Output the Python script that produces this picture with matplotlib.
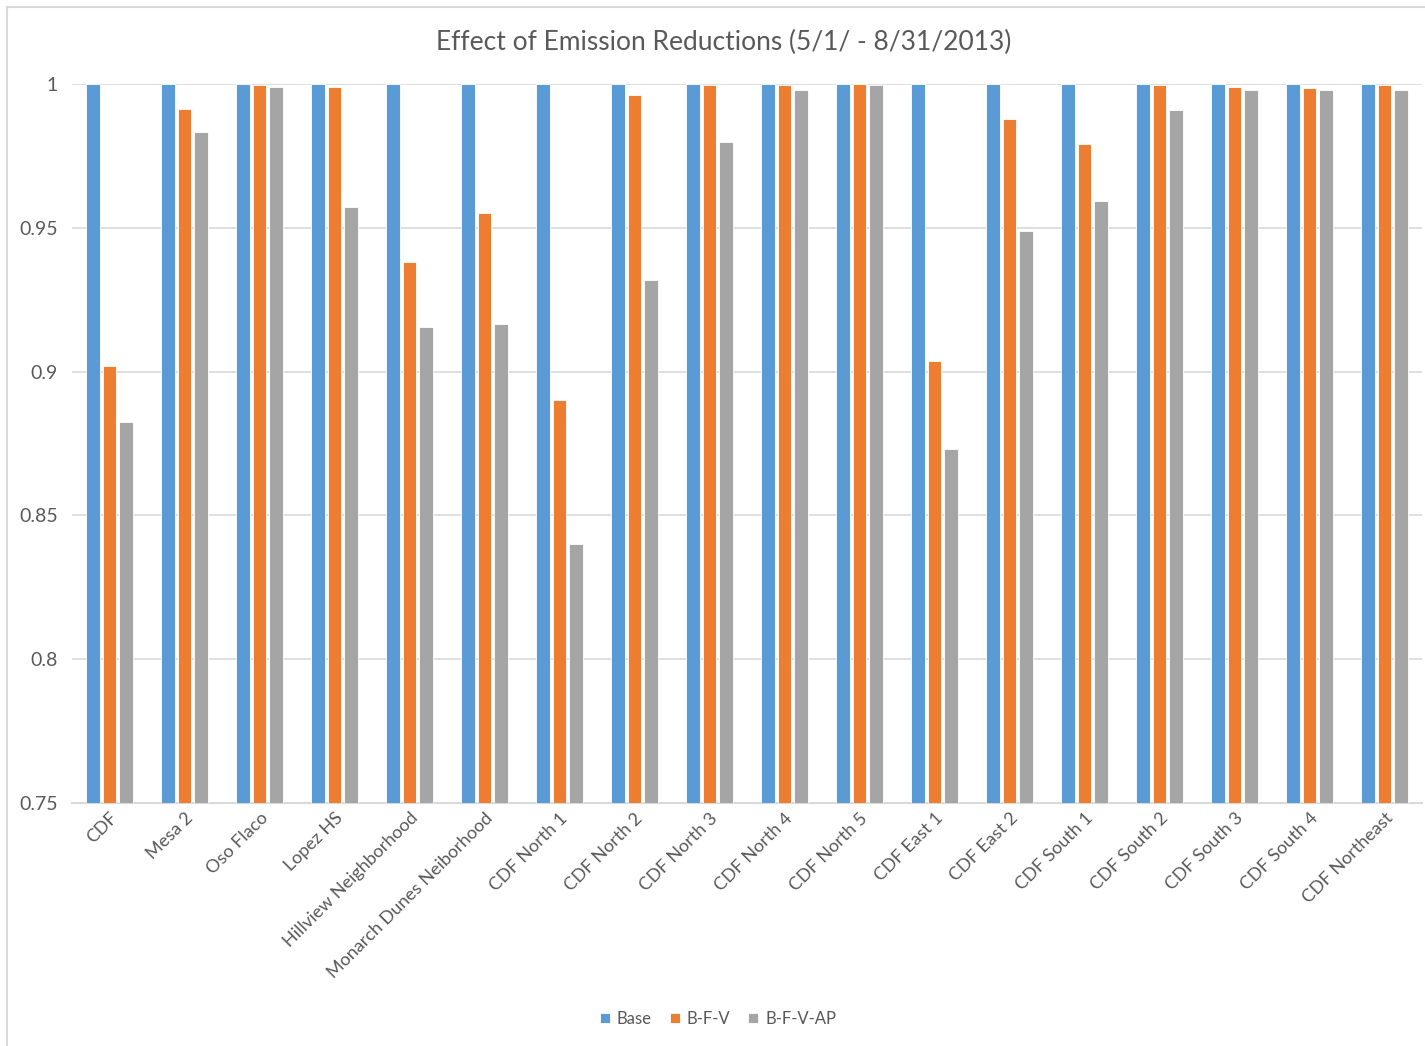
import matplotlib.pyplot as plt
import numpy as np
from matplotlib.patches import Rectangle

sites = ["CDF", "Mesa 2", "Oso Flaco", "Lopez HS", "Hillview Neighborhood",
         "Monarch Dunes Neiborhood", "CDF North 1", "CDF North 2", "CDF North 3",
         "CDF North 4", "CDF North 5", "CDF East 1", "CDF East 2", "CDF South 1",
         "CDF South 2", "CDF South 3", "CDF South 4", "CDF Northeast"]
base = [1.0] * 18
bfv = [0.902, 0.9913, 0.9997, 0.999, 0.938, 0.9551, 0.890, 0.9962, 0.9997,
       0.9997, 1.0, 0.9037, 0.988, 0.979, 0.9997, 0.999, 0.9986, 0.9997]
bfvap = [0.8825, 0.9833, 0.999, 0.9572, 0.9155, 0.9166, 0.840, 0.9318, 0.980,
         0.998, 0.9997, 0.873, 0.949, 0.9593, 0.991, 0.998, 0.998, 0.998]
series = ["Base", "B-F-V", "B-F-V-AP"]
colors = ["#5b9bd5", "#ed7d31", "#a5a5a5"]
yticks = [0.75, 0.8, 0.85, 0.9, 0.95, 1.0]
ylabels = ["0.75", "0.8", "0.85", "0.9", "0.95", "1"]

plt.rcParams['font.family'] = ['Lato', 'DejaVu Sans']
txt = "#595959"

fig = plt.figure(figsize=(14.25, 10.46), dpi=100)
ax = fig.add_axes([72 / 1425, 1 - 803 / 1046, 1350 / 1425, 719 / 1046])

x = np.arange(len(sites))
w = 0.175
for k, (vals, c) in enumerate(zip([base, bfv, bfvap], colors)):
    ax.bar(x + (k - 1) * 0.22, np.array(vals) - 0.75, w, bottom=0.75,
           color=c, edgecolor="white", linewidth=0.6, label=series[k], zorder=3)

ax.set_xlim(-0.5, len(sites) - 0.5)
ax.set_ylim(0.75, 1.0)
ax.set_yticks(yticks)
ax.set_yticklabels(ylabels, fontsize=14, color=txt)
ax.set_xticks(x)
ax.set_xticklabels(sites, rotation=45, ha="right", rotation_mode="anchor",
                   fontsize=13, color=txt)
ax.tick_params(length=0, pad=10)
ax.tick_params(axis="x", pad=5)
ax.grid(axis="y", color="#d9d9d9", linewidth=1.2, zorder=0)
for s in ["top", "right", "left"]:
    ax.spines[s].set_visible(False)
ax.spines["bottom"].set_color("#d9d9d9")
ax.spines["bottom"].set_linewidth(1.5)

fig.text(724 / 1425, 1 - 42 / 1046, "Effect of Emission Reductions (5/1/ - 8/31/2013)",
         ha="center", va="center", fontsize=19, color=txt)

ax.legend(loc="center", bbox_to_anchor=(718 / 1425, 1 - 1019 / 1046),
          bbox_transform=fig.transFigure, ncol=3, frameon=False, fontsize=12,
          handlelength=0.6, handleheight=0.6, handletextpad=0.4, columnspacing=1.1,
          labelcolor=txt)

# chart border
fig.patches.append(Rectangle((7 / 1425, -0.1), 1.2, 1 - 7 / 1046 + 0.1,
                             transform=fig.transFigure, fill=False,
                             edgecolor="#d9d9d9", linewidth=1.5))

fig.savefig("out.png", dpi=100)
